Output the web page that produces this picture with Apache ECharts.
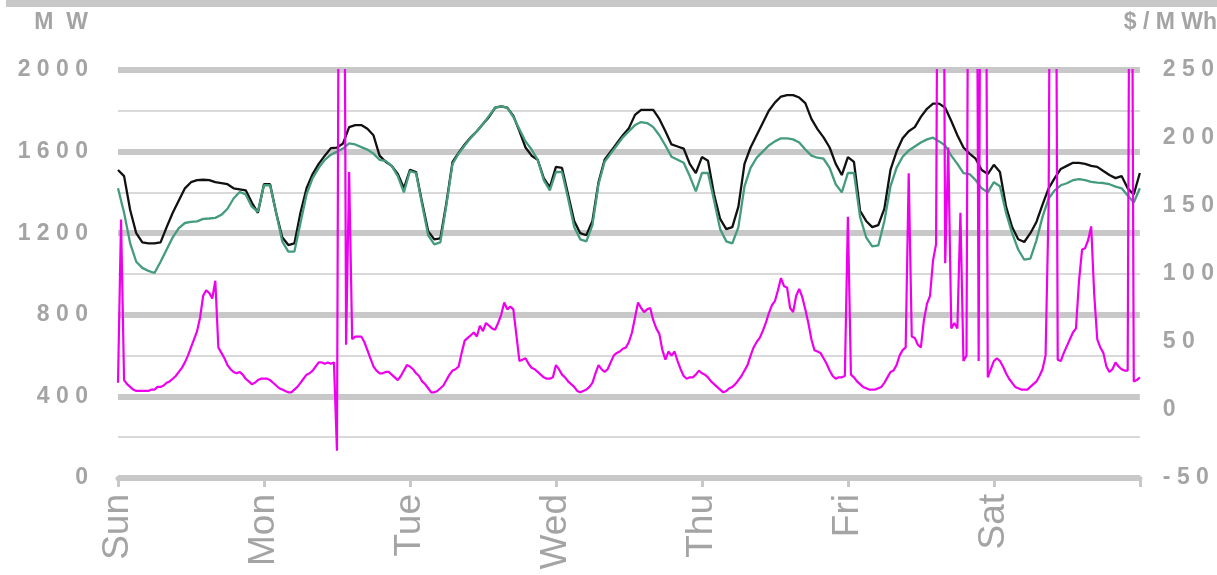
<!DOCTYPE html>
<html><head><meta charset="utf-8">
<script src="https://cdn.jsdelivr.net/npm/echarts/dist/echarts.min.js"></script>
<style>html,body{margin:0;padding:0;background:#fff}#c{width:1217px;height:575px}</style>
</head><body><div id="c"></div>
<script>
// ---- Data (hourly load in MW, half-hourly price in $/MWh) ----
const days = ['Sun','Mon','Tue','Wed','Thu','Fri','Sat'];
const leftTicks = [0,400,800,1200,1600,2000];
const rightTicks = [-50,0,50,100,150,200,250];

// black line (hourly MW)
const blackSun = [1510,1480,1314,1200,1155,1150,1150,1155,1230,1300,1360,1420,1450,1460,1462,1460,1450,1446,1440,1420,1415,1410,1350,1300];
const blackMon = [1440,1440,1300,1180,1142,1150,1300,1420,1490,1540,1580,1617,1620,1640,1720,1730,1730,1712,1680,1580,1550,1530,1490,1420];
const blackTue = [1510,1500,1350,1210,1170,1175,1350,1550,1593,1635,1670,1700,1735,1770,1815,1822,1815,1775,1700,1620,1580,1560,1470,1425];
const blackWed = [1525,1520,1390,1260,1200,1190,1260,1450,1560,1600,1640,1680,1715,1780,1805,1805,1805,1760,1700,1635,1625,1615,1540,1495];
const blackThu = [1573,1555,1390,1270,1220,1230,1330,1540,1620,1680,1740,1800,1840,1870,1877,1877,1865,1838,1760,1710,1670,1620,1540,1485];
const blackFri = [1573,1550,1310,1260,1230,1240,1320,1510,1600,1665,1700,1720,1770,1810,1835,1835,1815,1750,1680,1620,1590,1565,1510,1490];
const blackSat = [1535,1500,1330,1230,1170,1157,1200,1255,1340,1420,1470,1515,1530,1545,1545,1540,1530,1525,1505,1485,1470,1480,1420,1390];
const blackEnd = [1495];

// green line (hourly MW)
const greenSun = [1420,1300,1150,1060,1030,1015,1005,1060,1120,1180,1225,1250,1255,1258,1270,1272,1275,1290,1320,1370,1402,1390,1330,1305];
const greenMon = [1435,1436,1300,1160,1110,1110,1250,1390,1470,1520,1560,1585,1600,1615,1640,1635,1622,1610,1590,1560,1555,1530,1480,1400];
const greenTue = [1505,1495,1340,1190,1145,1155,1340,1540,1590,1630,1668,1700,1735,1775,1815,1822,1815,1770,1710,1650,1610,1560,1460,1410];
const greenWed = [1500,1500,1370,1230,1170,1160,1240,1440,1550,1590,1630,1670,1700,1730,1745,1740,1720,1680,1630,1575,1560,1545,1480,1405];
const greenThu = [1495,1495,1360,1220,1160,1150,1230,1430,1520,1570,1600,1630,1650,1665,1665,1660,1645,1610,1580,1570,1565,1520,1440,1400];
const greenFri = [1495,1495,1280,1180,1135,1140,1260,1430,1520,1575,1605,1625,1645,1660,1668,1650,1630,1580,1540,1495,1490,1460,1420,1400];
const greenSat = [1450,1430,1300,1200,1120,1070,1075,1165,1280,1370,1410,1435,1445,1460,1465,1460,1452,1448,1446,1440,1428,1420,1385,1350];
const greenEnd = [1420];

// magenta price (half-hourly $/MWh)
const priceSun = [20,140,22,19,17,15,14,14,14,14,14,15,15,17,17,18,20,21,23,25,28,31,35,40,46,52,58,68,84,88,86,82,95,46,42,38,33,30,28,27,28,26,23,21,19,20,22,23];
const priceMon = [23,23,22,20,18,16,15,14,13,13,15,17,20,23,26,27,29,32,35,35,34,35,34,35,-30,600,600,48,175,52,54,54,54,50,44,38,32,29,27,27,28,28,26,24,22,25,29,33];
const priceTue = [32,30,27,25,21,19,16,13,13,14,16,18,22,26,29,30,32,42,51,53,55,57,54,62,58,64,62,60,59,64,70,79,74,76,74,55,36,37,38,34,31,30,28,26,24,23,23,24];
const priceWed = [33,30,26,24,21,19,17,14,13,14,15,17,20,27,33,30,28,30,35,40,42,43,45,46,50,57,68,79,75,72,74,75,66,60,56,44,37,43,40,43,36,30,25,23,24,24,26,29];
const priceThu = [27,26,24,21,19,17,15,13,14,16,17,19,22,25,29,33,40,46,50,53,58,64,71,77,80,88,97,91,90,75,72,84,89,83,74,64,52,44,43,42,38,34,29,25,23,24,24,25];
const priceFri = [142,26,24,21,19,17,16,15,15,15,16,17,20,24,28,29,33,40,44,46,174,54,53,48,46,66,78,84,110,122,600,600,108,193,60,64,60,145,36,40,600,600,600,36,600,600,24,30];
const priceSat = [36,38,36,32,27,23,20,17,16,15,15,15,17,19,21,25,30,40,150,600,600,37,36,42,47,52,57,60,95,118,119,125,135,85,52,46,42,32,28,30,35,32,30,29,29,600,21,22];
const priceEnd = [24];

// ---- build series data ----
const black = [].concat(blackSun,blackMon,blackTue,blackWed,blackThu,blackFri,blackSat,blackEnd).map((v,i)=>[i,v]);
const green = [].concat(greenSun,greenMon,greenTue,greenWed,greenThu,greenFri,greenSat,greenEnd).map((v,i)=>[i,v]);
const price = [].concat(priceSun,priceMon,priceTue,priceWed,priceThu,priceFri,priceSat,priceEnd).map((v,i)=>[i*0.5,v]);

const GRAY = '#c8c8c8';
const TXT = '#a4a4a4';
const FONT = 'Liberation Sans, Arial, sans-serif';
const spaced = s => String(s).split('').join(' ');

const chart = echarts.init(document.getElementById('c'), null, {renderer:'canvas'});
chart.setOption({
  animation:false,
  backgroundColor:'#fff',
  grid:{left:118,right:74,top:70,bottom:97},
  graphic:[
    {type:'rect', shape:{x:6,y:0,width:1211,height:7}, style:{fill:GRAY}, silent:true},
    {type:'text', x:88, y:23, style:{text:'M  W', fill:TXT, font:'bold 23px '+FONT, textAlign:'right', textVerticalAlign:'middle'}},
    {type:'text', x:1217, y:23, style:{text:'$ / M Wh', fill:TXT, font:'bold 23px '+FONT, textAlign:'right', textVerticalAlign:'middle'}}
  ],
  xAxis:{
    type:'value', min:0, max:168, interval:24,
    axisLine:{show:true, lineStyle:{color:GRAY, width:5}},
    axisTick:{show:true, length:9, lineStyle:{color:GRAY, width:3}},
    splitLine:{show:false},
    axisLabel:{rotate:90, margin:16, color:TXT, fontSize:37, fontFamily:FONT,
      formatter: v => (v < 168 ? days[Math.round(v/24)] : '')}
  },
  yAxis:[
    {type:'value', min:0, max:2000, interval:200, position:'left',
     axisLine:{show:false}, axisTick:{show:false},
     splitLine:{show:true, lineStyle:{color:'#cccccc', width:1.5}},
     axisLabel:{margin:30, color:TXT, fontSize:23, fontWeight:'bold', fontFamily:FONT,
       formatter: v => (leftTicks.indexOf(v) >= 0 ? spaced(v) : '')}},
    {type:'value', min:-50, max:250, interval:50, position:'right',
     axisLine:{show:false}, axisTick:{show:false}, splitLine:{show:false},
     axisLabel:{margin:23, color:TXT, fontSize:23, fontWeight:'bold', fontFamily:FONT,
       formatter: v => (rightTicks.indexOf(v) >= 0 ? spaced(v) : '')}},
    {type:'value', min:0, max:2000, interval:400, position:'left',
     axisLine:{show:false}, axisTick:{show:false}, axisLabel:{show:false},
     splitLine:{show:true, lineStyle:{color:GRAY, width:6}}}
  ],
  series:[
    {type:'line', name:'black', data:black, yAxisIndex:0, showSymbol:false, symbol:'none',
     lineStyle:{color:'#111111', width:2.3}, z:3},
    {type:'line', name:'green', data:green, yAxisIndex:0, showSymbol:false, symbol:'none',
     lineStyle:{color:'#449c7c', width:2.3}, z:4},
    {type:'line', name:'price', data:price, yAxisIndex:1, showSymbol:false, symbol:'none', clip:true,
     lineStyle:{color:'#ee00ee', width:2.2}, z:5}
  ]
});
</script></body></html>
